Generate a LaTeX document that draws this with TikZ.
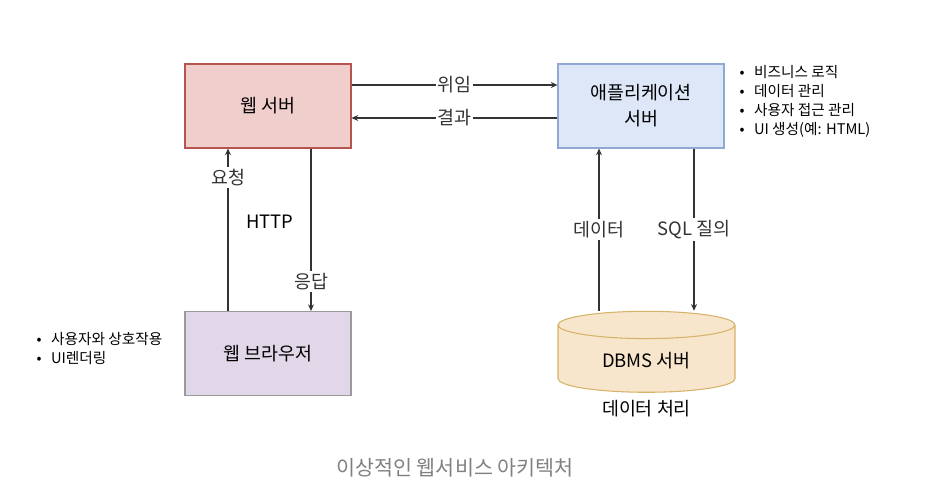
\documentclass[tikz,border=0pt]{standalone}
\usepackage{fontspec}
\setmainfont{Noto Sans CJK KR}
\usepackage{tikz}
\usetikzlibrary{arrows.meta,positioning,shapes.geometric}
\definecolor{webfill}{HTML}{F0CECC}
\definecolor{webline}{HTML}{B85450}
\definecolor{appfill}{HTML}{DDE7F8}
\definecolor{appline}{HTML}{8FA8D6}
\definecolor{brwfill}{HTML}{E1D7E8}
\definecolor{brwline}{HTML}{9A9A9A}
\definecolor{dbfill}{HTML}{F8E6CC}
\definecolor{dbline}{HTML}{D6B26A}
\definecolor{wire}{HTML}{333333}

\begin{document}
\begin{tikzpicture}[x=0.75pt, y=-0.75pt,
  box/.style={draw, line width=0.8pt, minimum width=124.5pt, minimum height=63pt, align=center, font=\fontsize{13.8}{19.5}\selectfont},
  arr/.style={-{Stealth[length=5pt,width=4.5pt]}, line width=0.8pt, color=wire},
  lbl/.style={fill=white, inner sep=1.5pt, font=\fontsize{13.8}{15}\selectfont},
  notes/.style={align=left, font=\fontsize{11}{14.25}\selectfont, anchor=north west},
]
\useasboundingbox (0,0) rectangle (928,487);

\node[box, fill=webfill, draw=webline] (web) at (268,106) {웹 서버};
\node[box, fill=appfill, draw=appline] (app) at (641,106) {애플리케이션\\서버};
\node[box, fill=brwfill, draw=brwline] (brw) at (268,353.5) {웹 브라우저};
\node[cylinder, shape border rotate=90, aspect=0.28, draw=dbline, line width=0.8pt, fill=dbfill,
  minimum width=132.75pt, minimum height=60.75pt, font=\fontsize{13.8}{15}\selectfont] (dbms) at (646.5,361) {\raisebox{-8pt}{DBMS 서버}};
\node[font=\fontsize{13.8}{15}\selectfont, below=2pt of dbms] (dbnote) {데이터 처리};

% web server <-> application server
\draw[arr] (web.east |- 0,85) -- node[lbl] {위임} (app.west |- 0,85);
\draw[arr] (app.west |- 0,118) -- node[lbl] {결과} (web.east |- 0,118);

% browser <-> web server
\draw[arr] (brw.north -| 228,0) -- node[lbl, pos=0.82] {요청} (web.south -| 228,0);
\draw[arr] (web.south -| 311,0) -- node[lbl, pos=0.82] {응답} (brw.north -| 311,0);
\node[lbl] (http) at (270,222) {HTTP};

% application server <-> dbms
\draw[arr] (dbms.north -| 599,0) -- node[lbl, pos=0.5] {데이터} (app.south -| 599,0);
\draw[arr] (app.south -| 694,0) -- node[lbl, pos=0.5] {SQL 질의} (dbms.north -| 694,0);

% notes
\node[notes] (appnote) at (735,61) {\textbullet\hspace{7pt}비즈니스 로직\\ \textbullet\hspace{7pt}데이터 관리\\ \textbullet\hspace{7pt}사용자 접근 관리\\ \textbullet\hspace{7pt}UI 생성(예: HTML)};
\node[notes] (brwnote) at (32,328) {\textbullet\hspace{7pt}사용자와 상호작용\\ \textbullet\hspace{7pt}UI렌더링};

\node[font=\fontsize{15.5}{18}\selectfont, text=black!50] (caption) at (455,468) {이상적인 웹서비스 아키텍처};
\end{tikzpicture}
\end{document}
